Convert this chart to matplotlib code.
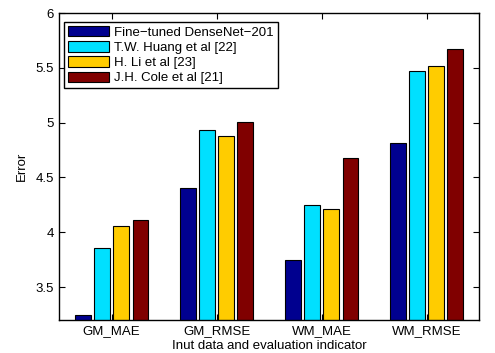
import numpy as np
import matplotlib
matplotlib.use('Agg')
import matplotlib.pyplot as plt

plt.rcParams['font.family'] = ['Liberation Sans', 'DejaVu Sans']

categories = ['GM_MAE', 'GM_RMSE', 'WM_MAE', 'WM_RMSE']
series_names = ['Fine\u2212tuned DenseNet\u2212201', 'T.W. Huang et al [22]',
                'H. Li et al [23]', 'J.H. Cole et al [21]']
densenet = [3.25, 4.40, 3.75, 4.81]
huang = [3.86, 4.93, 4.25, 5.47]
li = [4.06, 4.88, 4.21, 5.52]
cole = [4.11, 5.01, 4.68, 5.67]
colors = ['#00008F', '#00E0FF', '#FFCC00', '#800000']

fig = plt.figure(figsize=(4.95, 3.53), dpi=100)
ax = fig.add_axes([59/495, 33/353, 420/495, 307/353])

x = np.arange(1, len(categories) + 1)
group = 4 / 5.5
step = group / 4
width = step * 0.8
for i, (vals, name, c) in enumerate(zip([densenet, huang, li, cole], series_names, colors)):
    ax.bar(x + (i - 1.5) * step, vals, width, color=c, edgecolor='black',
           linewidth=0.8, label=name)

ax.set_xlim(0.5, 4.5)
ax.set_ylim(3.2, 6)
ax.set_xticks(x)
ax.set_xticklabels(categories)
ax.set_yticks([3.5, 4, 4.5, 5, 5.5, 6])
ax.set_yticklabels(['3.5', '4', '4.5', '5', '5.5', '6'])
ax.tick_params(direction='in', top=True, right=True, labelsize=9.5, length=4)
for s in ax.spines.values():
    s.set_linewidth(1.0)
ax.set_xlabel('Inut data and evaluation indicator', fontsize=9.5, labelpad=2)
ax.set_ylabel('Error', fontsize=9.5, labelpad=6)

leg = ax.legend(loc='upper left', bbox_to_anchor=(5/420, 1 - 9/307), borderaxespad=0,
                fontsize=9.5, handlelength=3.1, handleheight=0.85, labelspacing=0.18,
                fancybox=False, framealpha=1, edgecolor='black', borderpad=0.3,
                handletextpad=0.4)
leg.get_frame().set_linewidth(1.0)

fig.savefig('out.png', dpi=100)
